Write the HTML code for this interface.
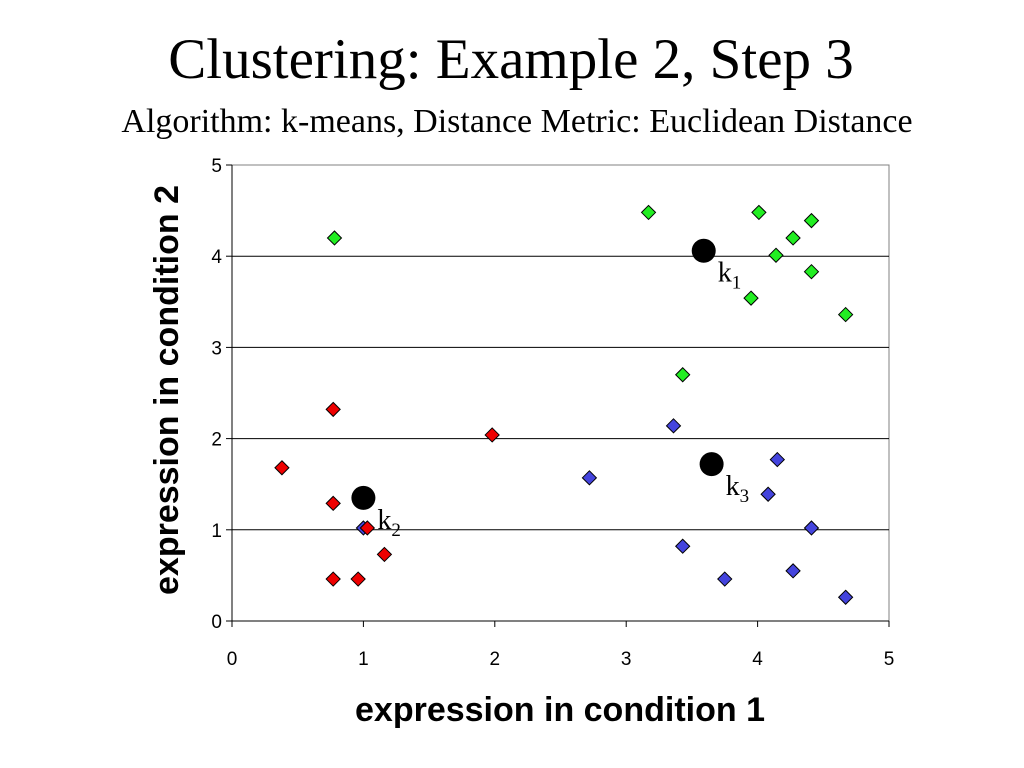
<!DOCTYPE html>
<html><head><meta charset="utf-8">
<style>
body{margin:0;background:#fff;width:1024px;height:768px;overflow:hidden}
svg{display:block}
</style></head>
<body>
<svg id="chart" width="1024" height="768" xmlns="http://www.w3.org/2000/svg">
<text x="511" y="78" text-anchor="middle" font-family="Liberation Serif, serif" font-size="57">Clustering: Example 2, Step 3</text>
<text x="517" y="132" text-anchor="middle" font-family="Liberation Serif, serif" font-size="34">Algorithm: k-means, Distance Metric: Euclidean Distance</text>
<text x="560" y="721" text-anchor="middle" font-family="Liberation Sans, sans-serif" font-weight="bold" font-size="34">expression in condition 1</text>
<text transform="translate(178,390) rotate(-90)" text-anchor="middle" font-family="Liberation Sans, sans-serif" font-weight="bold" font-size="34">expression in condition 2</text>
<g id="plot"></g>
</svg>
<script>
const xTicks=[0,1,2,3,4,5];
const yTicks=[0,1,2,3,4,5];
const greenX=[0.78,3.17,4.01,4.41,4.27,4.14,4.41,3.95,4.67,3.43];
const greenY=[4.20,4.48,4.48,4.39,4.20,4.01,3.83,3.54,3.36,2.70];
const blueX=[1.00,3.36,2.72,4.15,4.08,4.41,3.43,3.75,4.27,4.67];
const blueY=[1.02,2.14,1.57,1.77,1.39,1.02,0.82,0.46,0.55,0.26];
const redX=[0.77,0.38,1.98,0.77,1.03,1.16,0.77,0.96];
const redY=[2.32,1.68,2.04,1.29,1.02,0.73,0.46,0.46];
const centroidNames=["1","2","3"];
const centroidX=[3.59,1.00,3.65];
const centroidY=[4.06,1.35,1.72];

const NS="http://www.w3.org/2000/svg";
const X0=232,X1=889,Y0=621,Y1=165;
const sx=v=>X0+(X1-X0)*v/5;
const sy=v=>Y0-(Y0-Y1)*v/5;
const g=document.getElementById('plot');
function mk(t,a){const e=document.createElementNS(NS,t);for(const k in a)e.setAttribute(k,a[k]);g.appendChild(e);return e;}
const frame=mk('rect',{x:X0,y:Y1,width:X1-X0,height:Y0-Y1,fill:'none',stroke:'#808080','stroke-width':1});


yTicks.forEach(v=>{
  if(v>0&&v<5){const l=mk('line',{x1:X0,x2:X1,y1:sy(v),y2:sy(v),stroke:'#000','stroke-width':1});
  
  }
  const t=mk('line',{x1:X0-6,x2:X0,y1:sy(v),y2:sy(v),stroke:'#000'});
  
  
  const tx=mk('text',{x:X0-10,y:sy(v)+7,'text-anchor':'end','font-family':'Liberation Sans, sans-serif','font-size':19});
  tx.textContent=v;
  
  
});
mk('line',{x1:X0,x2:X0,y1:Y1,y2:Y0,stroke:'#000'});
mk('line',{x1:X0,x2:X1,y1:Y0,y2:Y0,stroke:'#000'});
xTicks.forEach(v=>{
  const t=mk('line',{x1:sx(v),x2:sx(v),y1:Y0,y2:Y0+6,stroke:'#000'});
  
  
  const tx=mk('text',{x:sx(v),y:Y0+44,'text-anchor':'middle','font-family':'Liberation Sans, sans-serif','font-size':19});
  tx.textContent=v;
  
  
});
function series(xs,ys,col,name){
  xs.forEach((x,i)=>{
    const cx=sx(x),cy=sy(ys[i]),r=7;
    const p=mk('polygon',{points:`${cx},${cy-r} ${cx+r},${cy} ${cx},${cy+r} ${cx-r},${cy}`,fill:col,stroke:'#000','stroke-width':1});
    
    
  });
}
series(blueX,blueY,'#4444dd','blue-point');
series(greenX,greenY,'#22ee22','green-point');
series(redX,redY,'#ee0000','red-point');
centroidX.forEach((x,i)=>{
  const c=mk('circle',{cx:sx(x),cy:sy(centroidY[i]),r:12,fill:'#000'});
  
  
  const t=mk('text',{x:sx(x)+14,y:sy(centroidY[i])+31,'font-family':'Liberation Serif, serif','font-size':28});
  t.innerHTML='k<tspan font-size="19" dy="7">'+centroidNames[i]+'</tspan>';
  
  
});
</script>
</body></html>
